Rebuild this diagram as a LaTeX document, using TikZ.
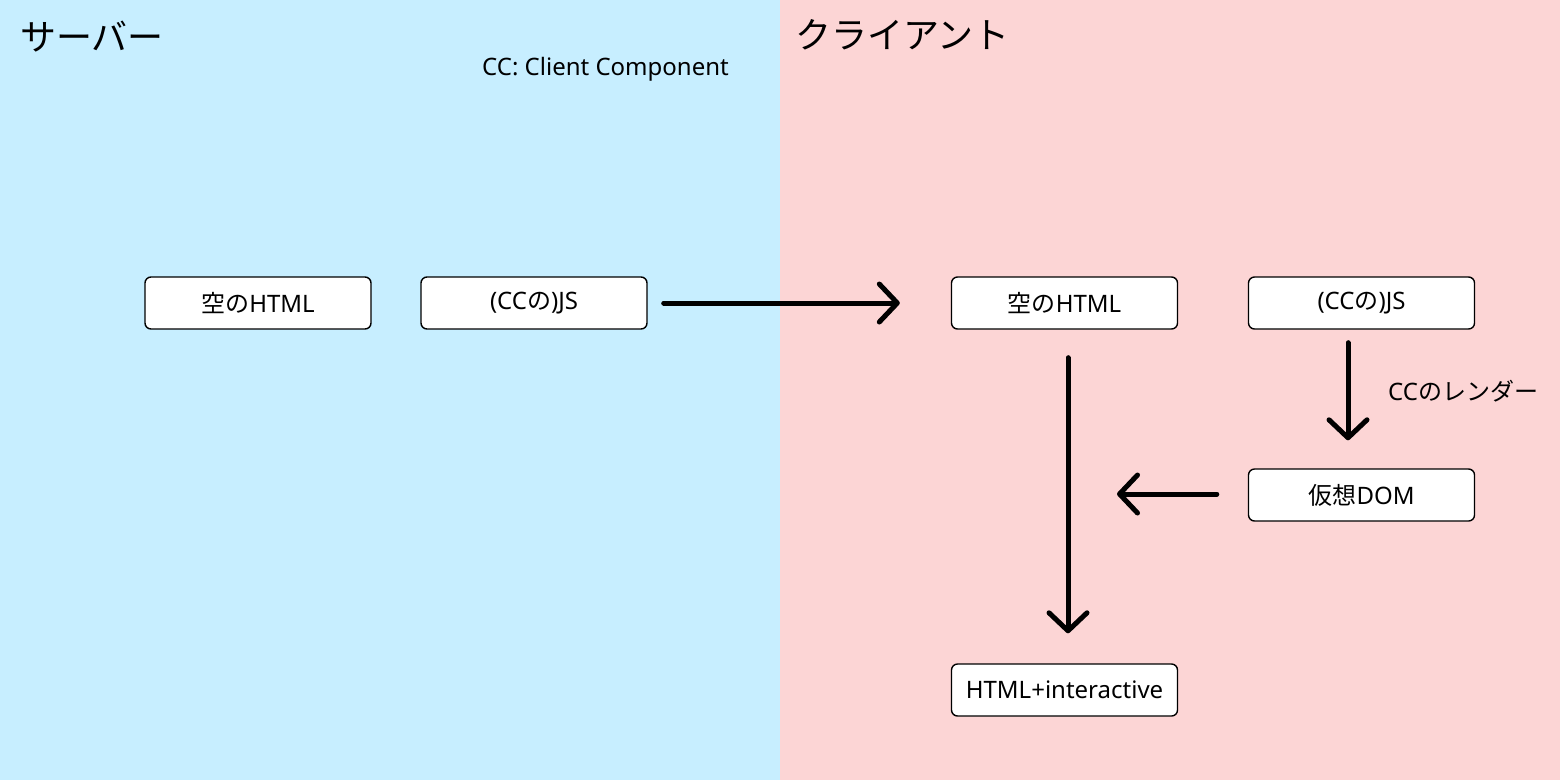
\documentclass[tikz,border=0pt]{standalone}
\usepackage{fontspec}
\setmainfont{Noto Sans}
\newfontfamily\cjk{Noto Sans CJK JP}
\usetikzlibrary{arrows.meta}
\definecolor{srvbg}{RGB}{199,238,255}
\definecolor{clibg}{RGB}{252,213,213}
\tikzset{
  box/.style={draw=black, fill=white, line width=1.4pt, rounded corners=6pt,
    minimum width=226pt, minimum height=52pt, inner sep=0pt,
    font=\fontsize{24}{28}\selectfont},
  lbl/.style={font=\fontsize{24}{28}\selectfont, inner sep=0pt},
  ttl/.style={font=\fontsize{36}{40}\selectfont\cjk, inner sep=0pt},
  flow/.style={line width=5pt, line cap=round,
    -{Straight Barb[length=18pt,width=38pt,line cap=round,line join=round]}}
}
\begin{document}
\begin{tikzpicture}[x=1pt,y=-1pt]
\useasboundingbox (0,0) rectangle (1560,780);
\fill[srvbg] (0,0) rectangle (780,780);
\fill[clibg] (780,0) rectangle (1560,780);

\node[ttl, anchor=west] (srv) at (20,37) {サーバー};
\node[ttl, anchor=west] (cli) at (795,35) {クライアント};
\node[lbl, anchor=west] (note) at (482,69) {CC: Client Component};

\node[box] (shtml) at (258,303) {{\cjk 空の}HTML};
\node[box] (sjs) at (534,303) {(CC{\cjk の})JS};
\node[box] (chtml) at (1064.5,303) {{\cjk 空の}HTML};
\node[box] (cjs) at (1361.5,303) {(CC{\cjk の})JS};
\node[box] (vdom) at (1361.5,495) {{\cjk 仮想}DOM};
\node[box] (fin) at (1064.5,690) {HTML+interactive};

\node[lbl, anchor=west] (rend) at (1388,391) {CC{\cjk のレンダー}};

\coordinate (mid) at (1117,494);

\draw[flow, shorten <=16pt, shorten >=51pt] (sjs.east) -- (chtml.west);
\draw[flow, shorten <=13pt, shorten >=28pt] ([xshift=-13.5pt]cjs.south) -- ([xshift=-13.5pt]vdom.north);
\draw[flow, shorten <=31pt] (vdom.west |- mid) -- (mid);
\draw[flow, shorten <=28pt, shorten >=30pt] ([xshift=3.5pt]chtml.south) -- ([xshift=3.5pt]fin.north);
\end{tikzpicture}
\end{document}
